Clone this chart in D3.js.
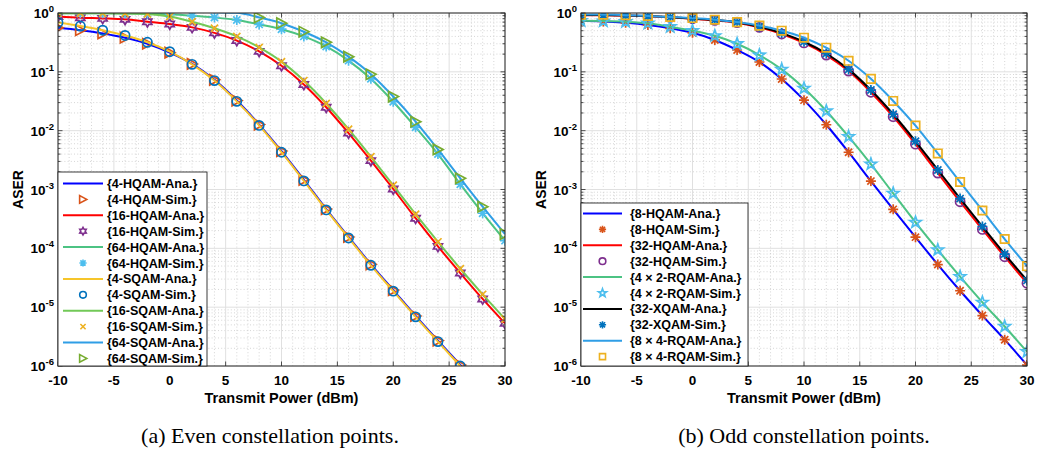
<!DOCTYPE html>
<html><head><meta charset="utf-8">
<script src="https://cdn.jsdelivr.net/npm/d3@7"></script>
<style>
html,body{margin:0;padding:0;background:#fff;}
svg{display:block;}
</style></head>
<body>
<svg id="chart" width="1038" height="451"></svg>
<script>
// ---------- DATA ----------
const xValues = [-10,-8,-6,-4,-2,0,2,4,6,8,10,12,14,16,18,20,22,24,26,28,30];
const xTicks = [-10,-5,0,5,10,15,20,25,30];
const yTickExponents = [0,-1,-2,-3,-4,-5,-6];

// (a) Even constellation points
const hqam4Ana  = [0.56,0.51,0.45,0.38,0.30,0.212,0.136,0.073,0.0325,0.0127,0.0045,0.00146,4.65e-4,1.56e-4,5.35e-5,1.95e-5,7.1e-6,2.7e-6,1.04e-6,4.0e-7,1.5e-7];
const hqam4Sim  = hqam4Ana;
const hqam16Ana = [0.87,0.83,0.81,0.78,0.71,0.65,0.57,0.46,0.34,0.223,0.127,0.061,0.025,0.0091,0.0031,0.00102,3.25e-4,1.08e-4,3.8e-5,1.38e-5,5.3e-6];
const hqam16Sim = hqam16Ana;
const hqam64Ana = [0.99,0.99,0.99,0.985,0.975,0.95,0.90,0.84,0.76,0.64,0.53,0.40,0.27,0.155,0.076,0.031,0.0114,0.0040,0.00123,3.95e-4,1.35e-4];
const hqam64Sim = hqam64Ana;
const sqam4Ana  = [0.69,0.60,0.51,0.415,0.318,0.22,0.134,0.071,0.0315,0.0123,0.0043,0.0014,4.5e-4,1.5e-4,5.15e-5,1.87e-5,6.85e-6,2.6e-6,1.0e-6,3.85e-7,1.45e-7];
const sqam4Sim  = sqam4Ana;
const sqam16Ana = [0.995,0.993,0.99,0.98,0.96,0.87,0.71,0.55,0.40,0.26,0.149,0.071,0.029,0.0106,0.0036,0.00118,3.8e-4,1.29e-4,4.5e-5,1.65e-5,6.3e-6];
const sqam16Sim = sqam16Ana;
const sqam64Ana = [1.5,1.4,1.3,1.22,1.15,1.1,1.06,1.03,1.01,0.84,0.67,0.48,0.317,0.181,0.091,0.038,0.0142,0.0048,0.00155,5.1e-4,1.75e-4];
const sqam64Sim = sqam64Ana;

// (b) Odd constellation points
const hqam8Ana   = [0.74,0.72,0.68,0.625,0.55,0.46,0.348,0.235,0.147,0.0755,0.033,0.0126,0.0043,0.00139,4.6e-4,1.55e-4,5.3e-5,1.9e-5,7.2e-6,2.8e-6,1.04e-6];
const hqam8Sim   = hqam8Ana;
const hqam32Ana  = [0.92,0.92,0.905,0.88,0.845,0.80,0.75,0.685,0.57,0.44,0.31,0.193,0.103,0.045,0.0173,0.0059,0.0019,6.2e-4,2.1e-4,7.2e-5,2.55e-5];
const hqam32Sim  = hqam32Ana;
const rqam4x2Ana = [0.74,0.73,0.71,0.67,0.585,0.50,0.41,0.30,0.193,0.110,0.0525,0.0216,0.0079,0.0027,8.6e-4,2.77e-4,9.4e-5,3.3e-5,1.21e-5,4.7e-6,1.75e-6];
const rqam4x2Sim = rqam4x2Ana;
const xqam32Ana  = [0.925,0.922,0.91,0.885,0.85,0.81,0.76,0.695,0.585,0.455,0.325,0.205,0.11,0.049,0.019,0.0066,0.00215,7.0e-4,2.35e-4,8.0e-5,2.85e-5];
const xqam32Sim  = xqam32Ana;
const rqam8x4Ana = [0.94,0.94,0.92,0.89,0.855,0.82,0.77,0.70,0.61,0.50,0.38,0.257,0.154,0.076,0.032,0.0122,0.0041,0.00134,4.4e-4,1.44e-4,5.0e-5];
const rqam8x4Sim = rqam8x4Ana;

const legendLabelsA = ["{4-HQAM-Ana.}","{4-HQAM-Sim.}","{16-HQAM-Ana.}","{16-HQAM-Sim.}","{64-HQAM-Ana.}","{64-HQAM-Sim.}","{4-SQAM-Ana.}","{4-SQAM-Sim.}","{16-SQAM-Ana.}","{16-SQAM-Sim.}","{64-SQAM-Ana.}","{64-SQAM-Sim.}"];
const legendLabelsB = ["{8-HQAM-Ana.}","{8-HQAM-Sim.}","{32-HQAM-Ana.}","{32-HQAM-Sim.}","{4 \u00d7 2-RQAM-Ana.}","{4 \u00d7 2-RQAM-Sim.}","{32-XQAM-Ana.}","{32-XQAM-Sim.}","{8 \u00d7 4-RQAM-Ana.}","{8 \u00d7 4-RQAM-Sim.}"];
const captionA = "(a) Even constellation points.";
const captionB = "(b) Odd constellation points.";
const xLabel = "Transmit Power (dBm)";
const yLabel = "ASER";

// ---------- STYLE ----------
const seriesA = [
  {type:"line", data:hqam4Ana,  color:"#0000ff"},
  {type:"mark", data:hqam4Sim,  color:"#d95319", marker:"triRight"},
  {type:"line", data:hqam16Ana, color:"#ff0000"},
  {type:"mark", data:hqam16Sim, color:"#7e2f8e", marker:"hexagram"},
  {type:"line", data:hqam64Ana, color:"#4cc383"},
  {type:"mark", data:hqam64Sim, color:"#4dbeee", marker:"asterisk"},
  {type:"line", data:sqam4Ana,  color:"#f6c52a"},
  {type:"mark", data:sqam4Sim,  color:"#0072bd", marker:"circle"},
  {type:"line", data:sqam16Ana, color:"#72c957"},
  {type:"mark", data:sqam16Sim, color:"#edb120", marker:"cross"},
  {type:"line", data:sqam64Ana, color:"#2f9ee6"},
  {type:"mark", data:sqam64Sim, color:"#77ac30", marker:"triRight"}
];
const seriesB = [
  {type:"line", data:hqam8Ana,   color:"#0000ff"},
  {type:"mark", data:hqam8Sim,   color:"#d95319", marker:"asterisk"},
  {type:"line", data:hqam32Ana,  color:"#ff0000"},
  {type:"mark", data:hqam32Sim,  color:"#7e2f8e", marker:"circle"},
  {type:"line", data:rqam4x2Ana, color:"#4cc383"},
  {type:"mark", data:rqam4x2Sim, color:"#4dbeee", marker:"pentagram"},
  {type:"line", data:xqam32Ana,  color:"#000000"},
  {type:"mark", data:xqam32Sim,  color:"#0072bd", marker:"asterisk"},
  {type:"line", data:rqam8x4Ana, color:"#2f9ee6"},
  {type:"mark", data:rqam8x4Sim, color:"#edb120", marker:"square"}
];

function markerPath(kind, k){
  const p = d3.path();
  if (kind==="circle"){ const r=4.6*k; p.moveTo(r,0); p.arc(0,0,r,0,2*Math.PI); }
  else if (kind==="square"){ const h=4.2*k; p.rect(-h,-h,2*h,2*h); }
  else if (kind==="triRight"){ const r=5.2*k; p.moveTo(r,0); p.lineTo(-r*0.9,-r); p.lineTo(-r*0.9,r); p.closePath(); }
  else if (kind==="hexagram" || kind==="pentagram"){
    const n = kind==="hexagram"?6:5;
    const R = (kind==="hexagram"?5.2:6.0)*k, ri = (kind==="hexagram"?R*0.58:R*0.4);
    for (let i=0;i<2*n;i++){
      const a = -Math.PI/2 + i*Math.PI/n;
      const rr = i%2===0?R:ri;
      if(i===0) p.moveTo(rr*Math.cos(a), rr*Math.sin(a)); else p.lineTo(rr*Math.cos(a), rr*Math.sin(a));
    }
    p.closePath();
  }
  else if (kind==="asterisk"){
    const r=5*k, d=r*0.72;
    p.moveTo(-r,0); p.lineTo(r,0); p.moveTo(0,-r); p.lineTo(0,r);
    p.moveTo(-d,-d); p.lineTo(d,d); p.moveTo(-d,d); p.lineTo(d,-d);
  }
  else if (kind==="cross"){ const r=3.6*k; p.moveTo(-r,-r); p.lineTo(r,r); p.moveTo(-r,r); p.lineTo(r,-r); }
  return p.toString();
}

const svg = d3.select("#chart");
const FONT = "'Liberation Sans', Arial, Helvetica, sans-serif";

function drawPanel(id, left, right, series, labels, legendBox, caption, captionX){
  const top = 13, bottom = 366;
  const x = d3.scaleLinear().domain([-10,30]).range([left,right]);
  const y = d3.scaleLog().domain([1e-6,1]).range([bottom,top]);
  const g = svg.append("g");

  // grid: minor
  const minorX = d3.range(-10,31,1).filter(v=>v%5!==0);
  const minorY = [];
  for (let e=-6;e<0;e++) for (let m=2;m<=9;m++) minorY.push(m*Math.pow(10,e));
  g.append("g").selectAll("line").data(minorX).join("line")
    .attr("x1",d=>x(d)).attr("x2",d=>x(d)).attr("y1",top).attr("y2",bottom)
    .attr("stroke","#c4c4c4").attr("stroke-width",0.7).attr("stroke-dasharray","1,2.2");
  g.append("g").selectAll("line").data(minorY).join("line")
    .attr("x1",left).attr("x2",right).attr("y1",d=>y(d)).attr("y2",d=>y(d))
    .attr("stroke","#c4c4c4").attr("stroke-width",0.7).attr("stroke-dasharray","1,2.2");
  // grid: major
  g.append("g").selectAll("line").data(xTicks).join("line")
    .attr("x1",d=>x(d)).attr("x2",d=>x(d)).attr("y1",top).attr("y2",bottom)
    .attr("stroke","#e0e0e0").attr("stroke-width",1);
  g.append("g").selectAll("line").data(yTickExponents).join("line")
    .attr("x1",left).attr("x2",right).attr("y1",d=>y(Math.pow(10,d))).attr("y2",d=>y(Math.pow(10,d)))
    .attr("stroke","#e0e0e0").attr("stroke-width",1);

  // clip
  svg.append("clipPath").attr("id","clip"+id).append("rect")
    .attr("x",left).attr("y",top).attr("width",right-left).attr("height",bottom-top);
  const plot = g.append("g").attr("clip-path","url(#clip"+id+")");
  const line = d3.line().x((d,i)=>x(xValues[i])).y(d=>y(d)).curve(d3.curveMonotoneX);
  series.forEach(s=>{
    if (s.type==="line"){
      plot.append("path").attr("d",line(s.data)).attr("fill","none")
        .attr("stroke",s.color).attr("stroke-width",2);
    } else {
      const pts = s.data.map((v,i)=>({x:xValues[i],v})).filter(p=>p.v<=1.0001 && p.v>=0.999e-6);
      plot.append("g").selectAll("path").data(pts).join("path")
        .attr("transform",d=>`translate(${x(d.x)},${y(d.v)})`)
        .attr("d",markerPath(s.marker,1)).attr("fill","none")
        .attr("stroke",s.color).attr("stroke-width",1.7);
    }
  });

  // axes box & ticks
  const axisColor = "#262626";
  const ticks = g.append("g").attr("stroke",axisColor).attr("stroke-width",0.8);
  xTicks.forEach(t=>{
    ticks.append("line").attr("x1",x(t)).attr("x2",x(t)).attr("y1",bottom).attr("y2",bottom-4.5);
    ticks.append("line").attr("x1",x(t)).attr("x2",x(t)).attr("y1",top).attr("y2",top+4.5);
  });
  yTickExponents.forEach(e=>{
    const yy=y(Math.pow(10,e));
    ticks.append("line").attr("x1",left).attr("x2",left+4.5).attr("y1",yy).attr("y2",yy);
    ticks.append("line").attr("x1",right).attr("x2",right-4.5).attr("y1",yy).attr("y2",yy);
  });
  minorY.forEach(v=>{
    const yy=y(v);
    ticks.append("line").attr("x1",left).attr("x2",left+2.5).attr("y1",yy).attr("y2",yy);
    ticks.append("line").attr("x1",right).attr("x2",right-2.5).attr("y1",yy).attr("y2",yy);
  });
  g.append("rect").attr("x",left).attr("y",top).attr("width",right-left).attr("height",bottom-top)
    .attr("fill","none").attr("stroke",axisColor).attr("stroke-width",1);

  // tick labels
  g.append("g").selectAll("text").data(xTicks).join("text")
    .attr("x",d=>x(d)).attr("y",bottom+19).attr("text-anchor","middle")
    .attr("font-family",FONT).attr("font-weight","bold").attr("font-size",13.5).attr("fill","#000")
    .text(d=>d);
  yTickExponents.forEach(e=>{
    const t = g.append("text").attr("x",left-4).attr("y",y(Math.pow(10,e))+5).attr("text-anchor","end")
      .attr("font-family",FONT).attr("font-weight","bold").attr("font-size",13.5).attr("fill","#000");
    t.append("tspan").text("10");
    t.append("tspan").attr("dy",-6).attr("font-size",9.5).text(String(e));
  });
  // axis labels
  g.append("text").attr("x",(left+right)/2).attr("y",bottom+37).attr("text-anchor","middle")
    .attr("font-family",FONT).attr("font-weight","bold").attr("font-size",14.5).attr("fill","#000").text(xLabel);
  g.append("text").attr("transform",`translate(${left-35},${(top+bottom)/2}) rotate(-90)`)
    .attr("text-anchor","middle")
    .attr("font-family",FONT).attr("font-weight","bold").attr("font-size",14).attr("fill","#000").text(yLabel);
  // caption
  g.append("text").attr("x",captionX).attr("y",443).attr("text-anchor","middle")
    .attr("font-family","'Liberation Serif','Times New Roman',serif").attr("font-size",22).attr("fill","#000").text(caption);

  // legend
  const lg = g.append("g");
  lg.append("rect").attr("x",legendBox.x0).attr("y",legendBox.y0)
    .attr("width",legendBox.x1-legendBox.x0).attr("height",legendBox.y1-legendBox.y0)
    .attr("fill","#fff").attr("stroke",axisColor).attr("stroke-width",0.9);
  series.forEach((s,i)=>{
    const yy = legendBox.row0 + i*legendBox.step;
    if (s.type==="line"){
      lg.append("line").attr("x1",legendBox.l0).attr("x2",legendBox.l1).attr("y1",yy).attr("y2",yy)
        .attr("stroke",s.color).attr("stroke-width",2);
    } else {
      lg.append("path").attr("transform",`translate(${(legendBox.l0+legendBox.l1)/2},${yy})`)
        .attr("d",markerPath(s.marker,0.72)).attr("fill","none").attr("stroke",s.color).attr("stroke-width",1.6);
    }
    lg.append("text").attr("x",legendBox.tx).attr("y",yy+4.5)
      .attr("font-family",FONT).attr("font-weight","bold").attr("font-size",12.5).attr("fill","#000")
      .text(labels[i]);
  });
}

drawPanel("A", 58, 505, seriesA, legendLabelsA,
  {x0:58, y0:172, x1:207, y1:366, row0:183.5, step:15.9, l0:63, l1:103, tx:107}, captionA, 270);
drawPanel("B", 581, 1027, seriesB, legendLabelsB,
  {x0:581, y0:203, x1:748, y1:366, row0:213.5, step:15.9, l0:583, l1:622, tx:630}, captionB, 804);
</script>
</body></html>
